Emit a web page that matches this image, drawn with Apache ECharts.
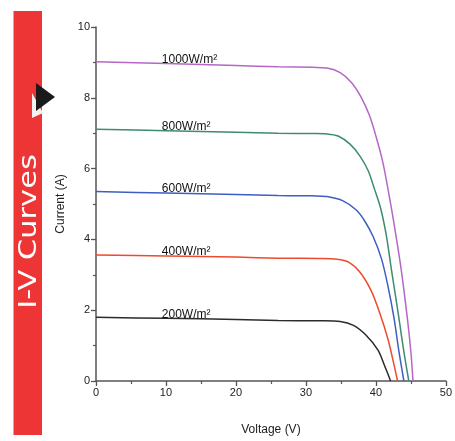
<!DOCTYPE html>
<html>
<head>
<meta charset="utf-8">
<script src="https://cdn.jsdelivr.net/npm/echarts@6/dist/echarts.min.js"></script>
<style>
html,body{margin:0;padding:0;background:#fff;}
#chart{width:455px;height:441px;}
</style>
</head>
<body>
<div id="chart"></div>
<script>
// ---- data ----
var seriesNames = ['1000W/m²', '800W/m²', '600W/m²', '400W/m²', '200W/m²'];
var v1000 = [0, 10, 20, 26, 31, 33, 34.9, 36.5, 37.9, 39.1, 40.0, 41.0, 41.9, 42.5, 43.6, 44.5, 45.0, 45.3];
var i1000 = [9.02, 8.97, 8.91, 8.88, 8.86, 8.84, 8.71, 8.43, 8.01, 7.49, 6.92, 6.17, 5.23, 4.55, 3.17, 1.76, 0.82, 0];
var v800 = [0, 10, 20, 26, 31, 33, 34.6, 36.3, 37.7, 38.9, 39.8, 40.7, 41.5, 42.2, 43.3, 44.0, 44.7];
var i800 = [7.11, 7.07, 7.03, 7.00, 6.99, 6.98, 6.92, 6.69, 6.36, 5.94, 5.42, 4.86, 4.10, 3.17, 1.76, 0.82, 0];
var v600 = [0, 10, 20, 26, 31, 33, 35.3, 37.2, 38.4, 39.6, 40.8, 41.7, 42.6, 43.3, 44.0];
var i600 = [5.35, 5.31, 5.27, 5.24, 5.23, 5.21, 5.09, 4.83, 4.52, 4.08, 3.45, 2.70, 1.76, 0.82, 0];
var v400 = [0, 10, 20, 26, 32, 34.4, 36.1, 37.7, 39.3, 40.5, 41.7, 42.6, 43.1];
var i400 = [3.56, 3.53, 3.50, 3.47, 3.46, 3.44, 3.36, 3.08, 2.56, 1.95, 1.20, 0.45, 0];
var v200 = [0, 10, 20, 26, 32, 34.9, 36.8, 38.6, 40.3, 41.2, 42.1];
var i200 = [1.80, 1.77, 1.74, 1.71, 1.70, 1.68, 1.57, 1.29, 0.87, 0.45, 0];
var labelVoltage = 9.4;
var xTicks = [0, 10, 20, 30, 40, 50];
var yTicks = [0, 2, 4, 6, 8, 10];
var bannerTitle = 'I-V Curves';

var voltages = [v1000, v800, v600, v400, v200];
var currents = [i1000, i800, i600, i400, i200];
var colors = ['#b467c6', '#3d8c70', '#3c5fc0', '#ee4a2c', '#2b2b2b'];

function pairs(vs, is) {
  return vs.map(function (v, k) { return [v, is[k]]; });
}

var series = seriesNames.map(function (name, s) {
  return {
    name: name,
    type: 'line',
    data: pairs(voltages[s], currents[s]),
    smooth: 0.3,
    showSymbol: false,
    symbol: 'none',
    lineStyle: { color: colors[s], width: 1.5 },
    markPoint: {
      symbol: 'circle',
      symbolSize: 0,
      silent: true,
      data: [{ coord: [labelVoltage, currents[s][1]] }],
      label: {
        show: true,
        position: 'inside',
        formatter: name,
        align: 'left',
        verticalAlign: 'bottom',
        offset: [0, 2],
        color: '#111',
        fontSize: 12,
        fontFamily: 'Liberation Sans, Arial, sans-serif'
      }
    }
  };
});

var axisCommon = {
  axisLine: { show: true, lineStyle: { color: '#555', width: 1.5 } },
  axisTick: { show: true, length: 5, lineStyle: { color: '#555', width: 1.3 } },
  minorTick: { show: true, splitNumber: 2, length: 3, lineStyle: { color: '#555', width: 1.2 } },
  splitLine: { show: false },
  axisLabel: { color: '#222', fontSize: 11, fontFamily: 'Liberation Sans, Arial, sans-serif', margin: 6 },
  nameTextStyle: { color: '#222', fontSize: 12, fontFamily: 'Liberation Sans, Arial, sans-serif' }
};

var chart = echarts.init(document.getElementById('chart'), null, { renderer: 'canvas' });
chart.setOption({
  animation: false,
  backgroundColor: '#fff',
  grid: { left: 96, right: 4, top: 27, bottom: 58.5, containLabel: false },
  xAxis: Object.assign({}, axisCommon, {
    type: 'value',
    min: xTicks[0],
    max: xTicks[xTicks.length - 1],
    interval: xTicks[1] - xTicks[0],
    name: 'Voltage (V)',
    nameLocation: 'middle',
    nameGap: 43
  }),
  yAxis: Object.assign({}, axisCommon, {
    type: 'value',
    min: yTicks[0],
    max: yTicks[yTicks.length - 1],
    interval: yTicks[1] - yTicks[0],
    name: 'Current (A)',
    nameLocation: 'middle',
    nameGap: 27,
    nameRotate: 90
  }),
  series: series,
  graphic: [
    {
      type: 'rect',
      shape: { x: 13.5, y: 11, width: 28.5, height: 424 },
      style: { fill: '#ee3535' },
      z: 0
    },
    {
      type: 'polygon',
      shape: { points: [[32, 93], [32, 118], [43, 113]] },
      style: { fill: '#f2f2f2' },
      z: 1
    },
    {
      type: 'polygon',
      shape: { points: [[36, 83], [55, 97], [36, 111]] },
      style: { fill: '#1a1a1a' },
      z: 2
    },
    {
      type: 'text',
      x: 30,
      y: 231.5,
      rotation: Math.PI / 2,
      scaleX: 1.27,
      style: {
        text: bannerTitle,
        fill: '#fff',
        fontSize: 24,
        fontFamily: 'DejaVu Sans, sans-serif',
        align: 'center',
        verticalAlign: 'middle'
      },
      z: 3
    }
  ]
});
</script>
</body>
</html>
